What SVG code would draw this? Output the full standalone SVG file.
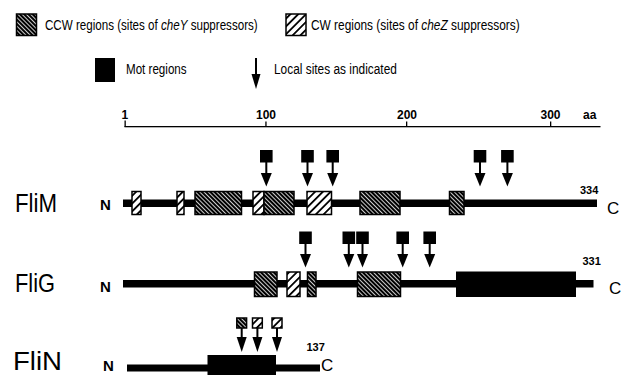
<svg xmlns="http://www.w3.org/2000/svg" xmlns:xlink="http://www.w3.org/1999/xlink" width="635" height="375" viewBox="0 0 635 375">
  <style>
    text { font-family: "Liberation Sans", Arial, sans-serif; fill: #000; }
    .leg { font-size: 14.5px; }
    .tick { font-size: 12px; font-weight: bold; }
    .name { font-size: 26px; }
    .nterm { font-size: 15px; font-weight: bold; }
    .cterm { font-size: 17px; }
    .len { font-size: 11px; font-weight: bold; }
    .ccw { fill: url(#hatchCCW); stroke: #000; stroke-width: 1.5; }
    .cw { fill: url(#hatchCW); stroke: #000; stroke-width: 1.5; }
    .mot { fill: #000; }
    .bb { fill: #000; }
    .site { fill: #000; }
  </style>
  <defs>
    <!-- dense back-slash hatching for CCW regions -->
    <pattern id="hatchCCW" width="3" height="3" patternUnits="userSpaceOnUse" patternTransform="rotate(-45)">
      <rect width="3" height="3" fill="#fff"/>
      <rect width="2.2" height="3" fill="#000"/>
    </pattern>
    <!-- open forward-slash hatching for CW regions -->
    <pattern id="hatchCW" width="5.5" height="5.5" patternUnits="userSpaceOnUse" patternTransform="rotate(45)">
      <rect width="5.5" height="5.5" fill="#fff"/>
      <rect width="1.8" height="5.5" fill="#000"/>
    </pattern>
    <!-- shaft and head of a site arrow, origin at the top of the marker square -->
    <g id="tip">
      <rect x="-1" y="11" width="2" height="13"/>
      <polygon points="-5.5,23 5.5,23 0,36.5"/>
    </g>
    <rect id="sq" x="-6.3" y="0" width="12.6" height="12.5"/>
    <g id="tipN">
      <rect x="-1" y="10" width="2" height="10"/>
      <polygon points="-5,19 5,19 0,34"/>
    </g>
  </defs>

  <!-- key -->
  <g id="legend">
    <rect class="ccw" x="16.5" y="14" width="20" height="21.5"/>
    <text class="leg" transform="translate(45 29.5) scale(0.8 1)">CCW regions (sites of <tspan font-style="italic">cheY</tspan> suppressors)</text>
    <rect class="cw" x="286" y="14" width="20" height="21.5"/>
    <text class="leg" transform="translate(311 29.5) scale(0.82 1)">CW regions (sites of <tspan font-style="italic">cheZ</tspan> suppressors)</text>
    <rect class="mot" x="95" y="58" width="20" height="24"/>
    <text class="leg" transform="translate(126 74) scale(0.8 1)">Mot regions</text>
    <rect x="255" y="58" width="2" height="18"/>
    <polygon points="251.5,74 260.5,74 256,89"/>
    <text class="leg" transform="translate(274 74) scale(0.82 1)">Local sites as indicated</text>
  </g>

  <!-- residue scale -->
  <g id="scale">
    <rect x="124.5" y="126" width="476" height="1.3"/>
    <rect x="124.5" y="120.5" width="1.3" height="6.5"/>
    <rect x="265.3" y="121.5" width="1.3" height="5"/>
    <rect x="406" y="121.5" width="1.3" height="5"/>
    <rect x="550" y="121.5" width="1.3" height="5"/>
    <text class="tick" x="121.5" y="118.5">1</text>
    <text class="tick" x="266" y="118.5" text-anchor="middle">100</text>
    <text class="tick" x="407" y="118.5" text-anchor="middle">200</text>
    <text class="tick" x="550.5" y="118.5" text-anchor="middle">300</text>
    <text class="tick" x="583" y="118.5" font-weight="normal" font-size="13">aa</text>
  </g>

  <!-- FliM -->
  <g id="FliM">
    <text class="name" x="15" y="212" textLength="42" lengthAdjust="spacingAndGlyphs">FliM</text>
    <text class="nterm" x="100" y="210">N</text>
    <rect class="bb" x="123" y="199.5" width="474" height="7.5"/>
    <rect class="cw" x="132" y="191.5" width="9" height="23"/>
    <rect class="cw" x="177" y="191.5" width="7" height="23"/>
    <rect class="ccw" x="195" y="191.5" width="46.5" height="23"/>
    <rect class="cw" x="253" y="191.5" width="11" height="23"/>
    <rect class="ccw" x="264" y="191.5" width="30" height="23"/>
    <rect class="cw" x="307" y="191.5" width="24.5" height="23"/>
    <rect class="ccw" x="360" y="191.5" width="40" height="23"/>
    <rect class="ccw" x="449.5" y="191.5" width="14.5" height="23"/>
    <text class="len" x="580" y="193.5">334</text>
    <text class="cterm" x="607" y="214">C</text>
    <use xlink:href="#sq" class="site" x="266.3" y="150"/>
    <use xlink:href="#sq" class="site" x="307.5" y="150"/>
    <use xlink:href="#sq" class="site" x="332.7" y="150"/>
    <use xlink:href="#sq" class="site" x="480" y="150"/>
    <use xlink:href="#sq" class="site" x="507.4" y="150"/>
  </g>

  <!-- FliG -->
  <g id="FliG">
    <text class="name" x="15" y="292" textLength="40" lengthAdjust="spacingAndGlyphs">FliG</text>
    <text class="nterm" x="100" y="292">N</text>
    <rect class="bb" x="123" y="280" width="470.5" height="7.5"/>
    <rect class="ccw" x="254.5" y="272" width="22.5" height="24.5"/>
    <rect class="cw" x="287" y="272" width="13" height="24.5"/>
    <rect class="ccw" x="307.5" y="272" width="8.5" height="24.5"/>
    <rect class="ccw" x="357.5" y="272" width="43" height="24.5"/>
    <rect class="mot" x="456" y="271.5" width="120" height="25.5"/>
    <text class="len" x="582.5" y="265">331</text>
    <text class="cterm" x="609" y="293.5">C</text>
    <use xlink:href="#sq" class="site" x="305.5" y="231.5"/>
    <use xlink:href="#sq" class="site" x="348.8" y="231.5"/>
    <use xlink:href="#sq" class="site" x="362.5" y="231.5"/>
    <use xlink:href="#sq" class="site" x="402.7" y="231.5"/>
    <use xlink:href="#sq" class="site" x="429.7" y="231.5"/>
  </g>

  <!-- FliN -->
  <g id="FliN">
    <text class="name" x="13" y="370" font-size="20" textLength="49" lengthAdjust="spacingAndGlyphs">FliN</text>
    <text class="nterm" x="103" y="371">N</text>
    <rect class="bb" x="127" y="364.5" width="193" height="7"/>
    <rect class="mot" x="207.5" y="355" width="68.5" height="25"/>
    <text class="len" x="306.5" y="350.5">137</text>
    <text class="cterm" x="321" y="371" font-size="16">C</text>
    <rect class="ccw" x="236.8" y="318" width="9.8" height="10"/>
    <rect class="cw" x="252.5" y="318" width="9.8" height="10"/>
    <rect class="cw" x="272" y="318" width="10" height="10"/>
  </g>

  <!-- site arrows -->
  <g id="connectors">
    <use xlink:href="#tip" x="266.3" y="150"/>
    <use xlink:href="#tip" x="307.5" y="150"/>
    <use xlink:href="#tip" x="332.7" y="150"/>
    <use xlink:href="#tip" x="480" y="150"/>
    <use xlink:href="#tip" x="507.4" y="150"/>
    <use xlink:href="#tip" x="305.5" y="231"/>
    <use xlink:href="#tip" x="348.8" y="231"/>
    <use xlink:href="#tip" x="362.5" y="231"/>
    <use xlink:href="#tip" x="402.7" y="231"/>
    <use xlink:href="#tip" x="429.7" y="231"/>
    <use xlink:href="#tipN" x="241.7" y="318"/>
    <use xlink:href="#tipN" x="257.4" y="318"/>
    <use xlink:href="#tipN" x="277" y="318"/>
  </g>
</svg>
